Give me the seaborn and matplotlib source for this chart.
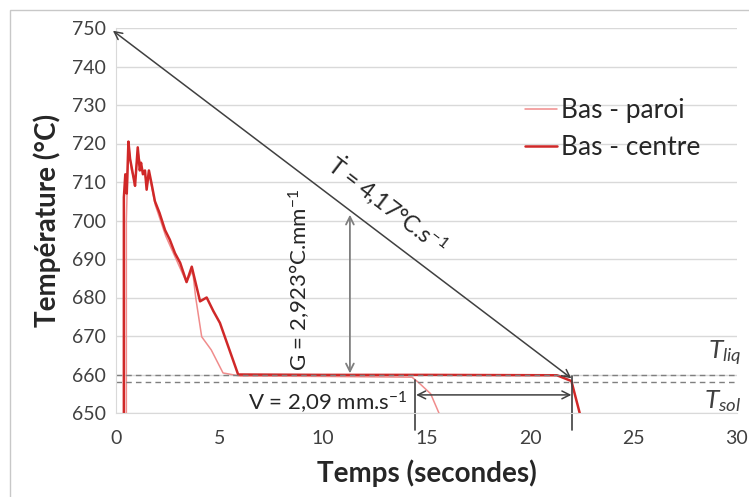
import numpy as np
import pandas as pd
import matplotlib
matplotlib.use("Agg")
import matplotlib.pyplot as plt
import seaborn as sns
from matplotlib.patches import Rectangle

# courbes de refroidissement
t_paroi = [0.5, 0.5, 0.56, 0.62, 0.75, 0.92, 1.05, 1.21, 1.4, 1.5, 1.6, 1.75, 1.9, 2.4, 2.9,
           3.4, 3.7, 3.85, 4.14, 4.6, 5.17, 6.0, 10.0, 14.3, 14.6, 15.2, 15.6, 15.8]
T_paroi = [640, 700, 712, 719, 713, 710, 718, 714, 712, 709, 712, 708, 704, 696, 690,
           684, 687, 680, 669.8, 666.4, 660.4, 659.6, 659.5, 659.3, 658, 655, 650, 647]

t_centre = [0.38, 0.38, 0.45, 0.52, 0.6, 0.68, 0.75, 0.85, 0.92, 1.05, 1.15, 1.21, 1.3, 1.4,
            1.48, 1.59, 1.72, 1.88, 2.1, 2.37, 2.6, 2.85, 3.1, 3.41, 3.66, 4.06, 4.38, 4.7,
            5.02, 5.9, 10.0, 15.0, 21.3, 22.0, 22.4, 22.6]
T_centre = [640, 706, 712, 707, 720.5, 716, 714, 711, 709, 719, 713, 715, 712, 713,
            708, 713, 709.5, 705, 702, 697.5, 695, 691.5, 689, 684, 688, 679, 680, 676.5,
            673.4, 660, 659.9, 659.9, 659.8, 658.3, 650, 645]

series_names = ["Bas - paroi", "Bas - centre"]
T_liq = 660
T_sol = 658
x_ticks = [0, 5, 10, 15, 20, 25, 30]
y_ticks = [650, 660, 670, 680, 690, 700, 710, 720, 730, 740, 750]

sns.set_style("white")
plt.rcParams["font.family"] = ["Lato", "DejaVu Sans"]
plt.rcParams["mathtext.fontset"] = "custom"
plt.rcParams["mathtext.rm"] = "Lato"
plt.rcParams["mathtext.it"] = "Lato:italic"
plt.rcParams["mathtext.bf"] = "Lato:bold"

fig = plt.figure(figsize=(7.49, 4.97), dpi=100)
ax = fig.add_axes([116 / 749, 1 - 413 / 497, 621 / 749, 385 / 497])

df_paroi = pd.DataFrame({"t": t_paroi, "T": T_paroi})
df_centre = pd.DataFrame({"t": t_centre, "T": T_centre})
sns.lineplot(data=df_paroi, x="t", y="T", sort=False, estimator=None, ax=ax,
             color="#f08c8c", lw=1.1, label=series_names[0])
sns.lineplot(data=df_centre, x="t", y="T", sort=False, estimator=None, ax=ax,
             color="#d02828", lw=1.8, label=series_names[1])

ax.set_xlim(0, 30)
ax.set_ylim(650, 750)
ax.set_xticks(x_ticks)
ax.set_yticks(y_ticks)
ax.yaxis.grid(True, color="#d9d9d9", lw=1)
ax.xaxis.grid(False)
for s in ["top", "right"]:
    ax.spines[s].set_visible(False)
ax.spines["left"].set_color("#d9d9d9")
ax.spines["bottom"].set_color("#d9d9d9")
ax.tick_params(axis="both", labelsize=14, colors="#404040")
ax.tick_params(axis="x", length=4, color="#d9d9d9", pad=8)
ax.tick_params(axis="y", length=0, pad=7)
ax.set_xlabel("Temps (secondes)", fontsize=20, fontweight="bold", labelpad=9)
ax.set_ylabel("Température (°C)", fontsize=20, fontweight="bold", labelpad=8)

# isothermes liquidus / solidus
ax.axhline(T_liq, color="#7f7f7f", ls=(0, (4, 3)), lw=1)
ax.axhline(T_sol, color="#7f7f7f", ls=(0, (4, 3)), lw=1)
ax.text(30.2, 665.5, r"$T_{liq}$", fontsize=19, ha="right", va="center", color="#404040")
ax.text(30.2, 653, r"$T_{sol}$", fontsize=19, ha="right", va="center", color="#404040")

# vitesse de refroidissement
ax.annotate("", xy=(-0.15, 749.3), xytext=(22.0, 659.0), annotation_clip=False,
            arrowprops=dict(arrowstyle="<->", color="#404040", lw=1.1,
                            shrinkA=0, shrinkB=0, mutation_scale=14))
ax.text(13.1, 704.0, r"$\dot{\mathrm{T}}$ = 4,17°C.s$^{-1}$", fontsize=16.5,
        rotation=-37.5, ha="center", va="center", color="#262626")

# gradient
ax.annotate("", xy=(11.3, 701.5), xytext=(11.3, 660.3),
            arrowprops=dict(arrowstyle="<->", color="#7f7f7f", lw=1.3,
                            shrinkA=0, shrinkB=0, mutation_scale=14))
ax.text(8.9, 684.5, "G = 2,923°C.mm$^{-1}$", fontsize=16, rotation=90,
        ha="center", va="center", color="#262626")

# vitesse de solidification
ax.plot([14.45, 14.45], [658.6, 645.6], color="#404040", lw=1.2, clip_on=False)
ax.plot([22.05, 22.05], [659.5, 645.6], color="#404040", lw=1.2, clip_on=False)
ax.annotate("", xy=(14.5, 654.7), xytext=(22.0, 654.7),
            arrowprops=dict(arrowstyle="<->", color="#404040", lw=1.1,
                            shrinkA=0, shrinkB=0, mutation_scale=14))
ax.text(14.1, 652.6, "V = 2,09 mm.s$^{-1}$", fontsize=16, ha="right", va="center",
        color="#262626")

leg = ax.legend(loc="upper left", bbox_to_anchor=(0.642, 0.845), frameon=False,
                fontsize=19, handlelength=1.2, handletextpad=0.15, labelspacing=0.45,
                borderaxespad=0)
for txt in leg.get_texts():
    txt.set_color("#262626")

fig.patches.append(Rectangle((10 / 749, -0.1), 2, 0.98 + 0.1, transform=fig.transFigure,
                             fill=False, ec="#c8c8c8", lw=1))

fig.savefig("out.png", dpi=100, facecolor="white")
